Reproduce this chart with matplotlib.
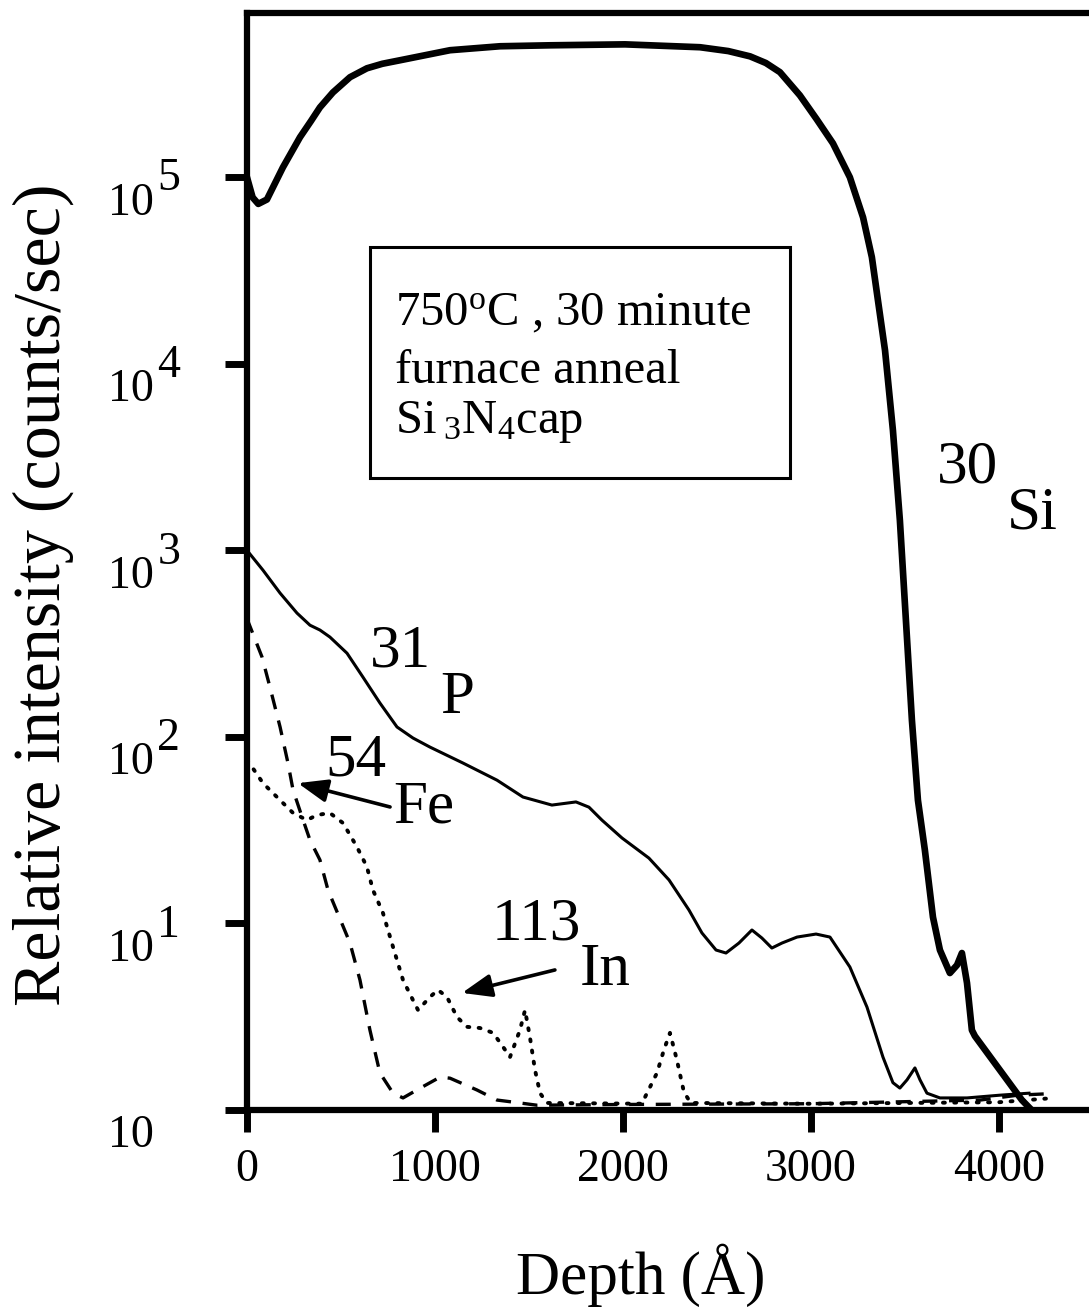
import numpy as np
import matplotlib
matplotlib.use('Agg')
import matplotlib.pyplot as plt
from matplotlib.patches import Rectangle

plt.rcParams['font.family'] = ['Liberation Serif', 'DejaVu Serif']
plt.rcParams['mathtext.fontset'] = 'custom'
plt.rcParams['mathtext.rm'] = 'Liberation Serif'
plt.rcParams['mathtext.default'] = 'regular'

# SIMS depth profiles, depth in Angstrom, intensity in counts/sec
si_depth = [0, 30, 60, 106, 191, 282, 340, 388, 457, 548, 638, 720, 814, 1080, 1346,
            1612, 2011, 2410, 2560, 2676, 2760, 2835, 2941, 3030, 3117, 3207, 3277,
            3324, 3351, 3394, 3436, 3473, 3505, 3537, 3569, 3606, 3649, 3686, 3739,
            3777, 3803, 3830, 3856, 3872, 4122, 4165]
si_counts = [1.0e5, 7.8e4, 7.2e4, 7.6e4, 1.13e5, 1.64e5, 2.0e5, 2.37e5, 2.85e5, 3.44e5,
             3.84e5, 4.06e5, 4.24e5, 4.8e5, 5.04e5, 5.1e5, 5.16e5, 4.98e5, 4.75e5,
             4.45e5, 4.1e5, 3.66e5, 2.75e5, 2.05e5, 1.52e5, 1.0e5, 6.1e4, 3.73e4,
             2.39e4, 1.18e4, 4400, 1450, 423, 123, 45.8, 24.7, 10.8, 7.2, 5.42, 5.98,
             6.94, 4.8, 2.68, 2.49, 1.13, 1.02]

p_depth = [0, 85, 176, 266, 335, 388, 441, 532, 617, 707, 798, 883, 973, 1149, 1330,
           1468, 1622, 1750, 1819, 1888, 1995, 2138, 2245, 2351, 2420, 2495, 2548,
           2617, 2686, 2739, 2792, 2846, 2926, 3027, 3101, 3207, 3298, 3383, 3436,
           3473, 3511, 3553, 3580, 3617, 3686, 3830, 4005, 4160]
p_counts = [1000, 783, 590, 461, 397, 374, 343, 281, 209, 152, 113, 98.6, 88.2, 72.4,
            58.6, 47.6, 43.1, 44.8, 42, 35.8, 28.7, 22.4, 17.1, 11.8, 8.89, 7.2, 6.94,
            7.85, 9.22, 8.35, 7.38, 7.85, 8.45, 8.77, 8.45, 5.84, 3.56, 1.92, 1.40,
            1.31, 1.45, 1.68, 1.45, 1.23, 1.16, 1.16, 1.20, 1.23]

fe_depth = [0, 80, 122, 176, 218, 245, 293, 335, 388, 431, 548, 601, 654, 707, 777,
            830, 904, 1027, 1080, 1223, 1330, 1452, 1543, 2000, 3000, 3900, 4100, 4250]
fe_counts = [430, 268, 185, 113, 72.4, 51.9, 37.2, 28, 21.9, 15.1, 7.85, 4.97, 2.68,
             1.58, 1.23, 1.16, 1.28, 1.50, 1.48, 1.28, 1.13, 1.09, 1.06, 1.07, 1.08,
             1.13, 1.2, 1.22]

in_depth = [0, 27, 85, 176, 245, 319, 372, 441, 511, 585, 638, 670, 723, 777, 830,
            883, 910, 973, 1016, 1064, 1117, 1170, 1239, 1309, 1362, 1399, 1452, 1479,
            1505, 1532, 1559, 1596, 2100, 2181, 2218, 2250, 2287, 2324, 2360, 3000,
            4000, 4250]
in_counts = [75, 68.9, 56.5, 45.8, 39.1, 35.8, 38.1, 39.1, 34.5, 25.7, 20.1, 15.1, 11.4,
             7.47, 4.97, 3.88, 3.43, 4.03, 4.40, 4.03, 3.15, 2.79, 2.75, 2.59, 2.18,
             1.92, 2.68, 3.43, 2.46, 1.64, 1.23, 1.09, 1.08, 1.58, 2.1, 2.59, 1.85,
             1.25, 1.09, 1.08, 1.10, 1.15]

decades = [0, 1, 2, 3, 4, 5]
x_ticks = [0, 1000, 2000, 3000, 4000]

fig = plt.figure(figsize=(10.89, 13.12), dpi=100)
ax = fig.add_axes([0.2268, 0.1540, 0.7732, 0.8361])

ax.plot(si_depth, si_counts, color='black', lw=4.8, solid_joinstyle='round')
ax.plot(p_depth, p_counts, color='black', lw=2.2, solid_joinstyle='round')
ax.plot(fe_depth, fe_counts, color='black', lw=2.4, linestyle=(0, (4.5, 3.5)))
ax.plot(in_depth, in_counts, color='black', lw=2.8, linestyle=(0, (0.5, 2.4)),
        dash_capstyle='round')

ax.set_yscale('log')
ax.set_xlim(0, 4479)
ax.set_ylim(1, 7.6e5)

for side in ['left', 'top', 'bottom']:
    ax.spines[side].set_linewidth(4.5)
ax.spines['right'].set_visible(False)

ax.set_xticks(x_ticks)
ax.set_xticklabels([str(t) for t in x_ticks], fontsize=33)
ax.set_yticks([10.0 ** d for d in decades])
ax.set_yticklabels([])
ax.yaxis.set_minor_locator(matplotlib.ticker.NullLocator())
ax.tick_params(axis='both', direction='out', length=16, width=5)
ax.tick_params(axis='x', pad=12)

# power-of-ten labels with a full-size raised exponent
for d in decades:
    ax.annotate('10', xy=(0, 10.0 ** d), xycoords=('axes fraction', 'data'),
                xytext=(-67, -27), textcoords='offset points',
                ha='right', va='baseline', fontsize=33)
    if d > 0:
        ax.annotate(str(d), xy=(0, 10.0 ** d), xycoords=('axes fraction', 'data'),
                    xytext=(-64.5, -9.5), textcoords='offset points',
                    ha='left', va='baseline', fontsize=33)

fig.text(43 / 1089, 1 - 595 / 1312, 'Relative intensity (counts/sec)',
         rotation=90, ha='center', va='center', fontsize=49)
fig.text(641 / 1089, 1 - 1294 / 1312, 'Depth (Å)', ha='center', va='baseline',
         fontsize=44)

# anneal conditions box
ax.add_patch(Rectangle((654, 2440), 2888 - 654, 42200 - 2440, fill=False,
                       lw=2.2, edgecolor='black'))
ax.text(787, 16100, '750$^{o}$C , 30 minute', fontsize=35, va='baseline')
ax.text(787, 7870, 'furnace anneal', fontsize=35, va='baseline')
ax.text(787, 4250, 'Si$\\,{}_{3}$N$_{4}$cap', fontsize=35, va='baseline')

# species labels
lab = dict(fontsize=44, va='baseline', ha='left')
ax.text(3670, 2320, '30', **lab)
ax.text(4043, 1315, 'Si', **lab)
ax.text(654, 237, '31', **lab)
ax.text(1027, 134, 'P', **lab)
ax.text(415, 62.4, '54', **lab)
ax.text(777, 34.9, 'Fe', **lab)
ax.text(1303, 8.15, '113', **lab)
ax.text(1771, 4.68, 'In', **lab)

arrow = dict(arrowstyle='-|>,head_length=0.9,head_width=0.35', color='black',
             lw=2.6, shrinkA=0, shrinkB=0, mutation_scale=20)
ax.annotate('', xy=(271, 56.5), xytext=(761, 42.1), arrowprops=arrow)
ax.annotate('', xy=(1144, 4.24), xytext=(1638, 5.63), arrowprops=arrow)

fig.savefig('out.png', dpi=100)
